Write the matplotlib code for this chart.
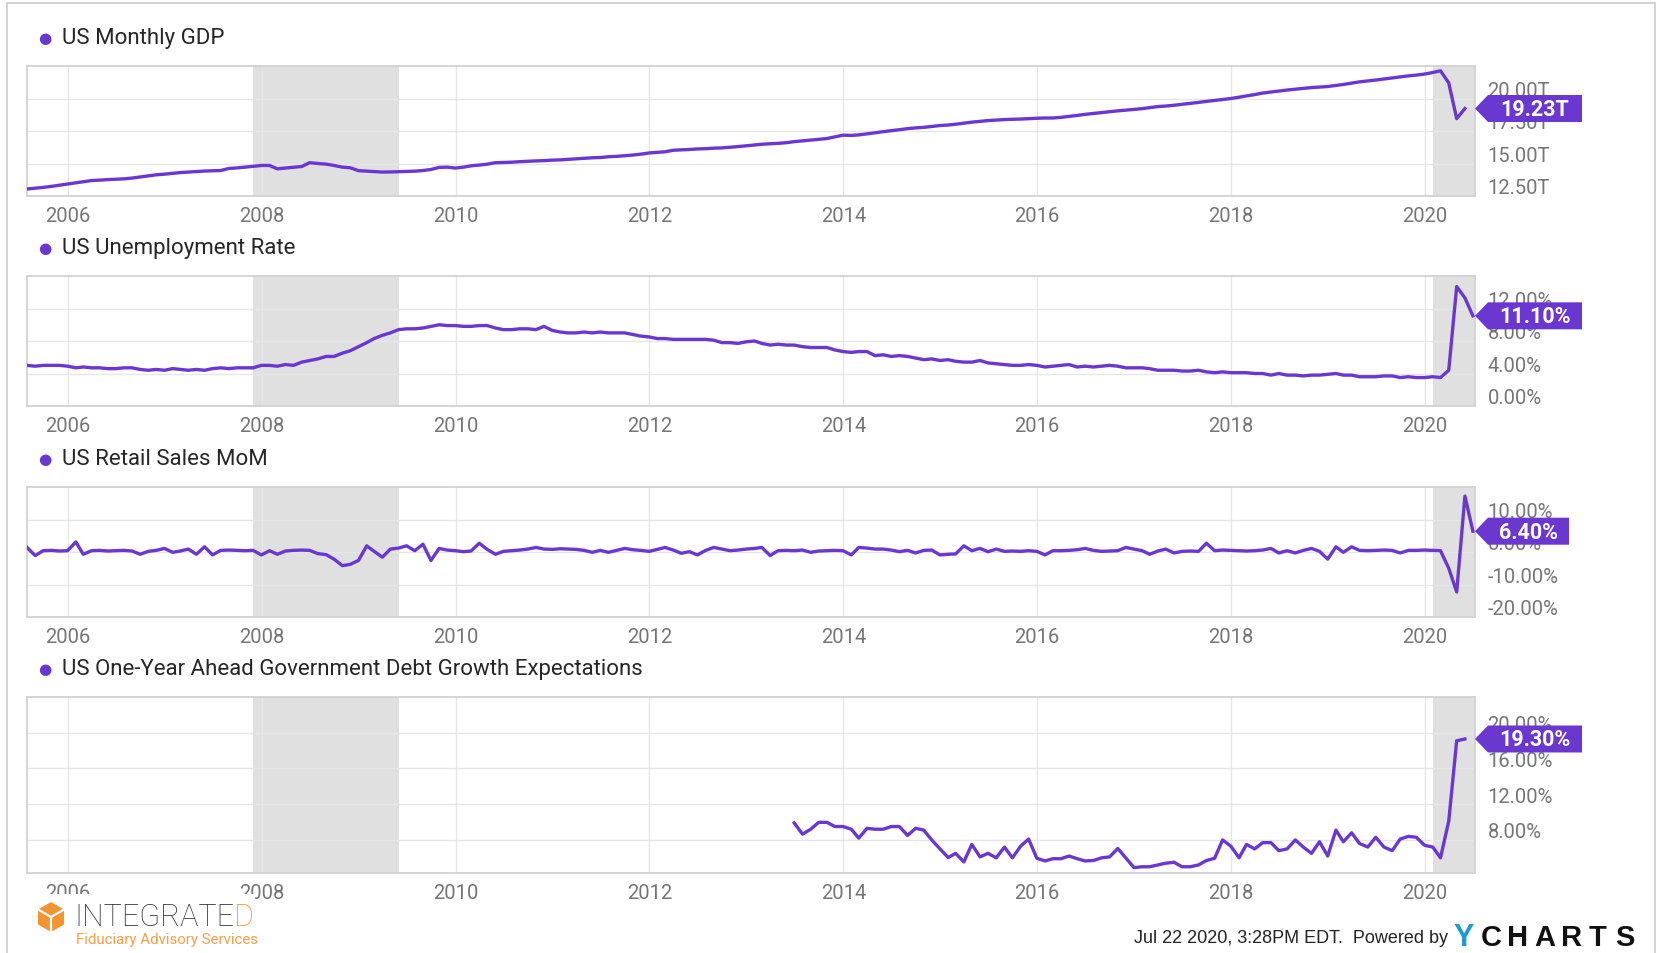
import matplotlib.pyplot as plt
import matplotlib.dates as mdates
import matplotlib.patches as mpatches
import matplotlib.text as mtext
import matplotlib.transforms as mtransforms
import numpy as np
import pandas as pd

plt.rcParams["font.family"] = ["Roboto", "DejaVu Sans"]

PURPLE = "#6a37d0"
TICK_GREY = "#757575"

# monthly, month-end dates
first_month = "2005-07-31"
debt_first_month = "2013-06-30"

gdp = [
    13.04, 13.10, 13.16, 13.24, 13.33, 13.43, 13.52, 13.60, 13.69, 13.72, 13.76, 13.79,
    13.82, 13.88, 13.96, 14.05, 14.13, 14.18, 14.24, 14.30, 14.34, 14.38, 14.42, 14.44,
    14.46, 14.62, 14.66, 14.72, 14.78, 14.85, 14.85, 14.59, 14.65, 14.70, 14.77, 15.06,
    15.00, 14.95, 14.85, 14.72, 14.67, 14.45, 14.41, 14.38, 14.34, 14.35, 14.37, 14.39,
    14.41, 14.46, 14.54, 14.70, 14.72, 14.65, 14.72, 14.82, 14.88, 14.95, 15.06, 15.08,
    15.10, 15.14, 15.17, 15.20, 15.22, 15.26, 15.28, 15.32, 15.36, 15.40, 15.44, 15.46,
    15.52, 15.55, 15.60, 15.65, 15.72, 15.81, 15.86, 15.90, 16.02, 16.05, 16.08, 16.12,
    16.14, 16.18, 16.20, 16.25, 16.30, 16.36, 16.42, 16.48, 16.52, 16.55, 16.60, 16.68,
    16.74, 16.80, 16.86, 16.92, 17.05, 17.18, 17.16, 17.20, 17.28, 17.36, 17.45, 17.52,
    17.60, 17.68, 17.74, 17.78, 17.85, 17.92, 17.96, 18.02, 18.10, 18.18, 18.24, 18.30,
    18.34, 18.38, 18.40, 18.42, 18.45, 18.48, 18.50, 18.50, 18.55, 18.62, 18.70, 18.78,
    18.85, 18.92, 18.98, 19.05, 19.10, 19.16, 19.22, 19.30, 19.38, 19.42, 19.48, 19.55,
    19.62, 19.70, 19.78, 19.85, 19.92, 20.00, 20.10, 20.20, 20.30, 20.42, 20.50, 20.58,
    20.65, 20.72, 20.78, 20.84, 20.88, 20.92, 21.00, 21.08, 21.18, 21.28, 21.35, 21.42,
    21.50, 21.58, 21.66, 21.74, 21.80, 21.88, 22.00, 22.13, 21.20, 18.45, 19.23,
]

unemployment = [
    5.0, 4.9, 5.0, 5.0, 5.0, 4.9,
    4.7, 4.8, 4.7, 4.7, 4.6, 4.6, 4.7, 4.7, 4.5, 4.4, 4.5, 4.4,
    4.6, 4.5, 4.4, 4.5, 4.4, 4.6, 4.7, 4.6, 4.7, 4.7, 4.7, 5.0,
    5.0, 4.9, 5.1, 5.0, 5.4, 5.6, 5.8, 6.1, 6.1, 6.5, 6.8, 7.3,
    7.8, 8.3, 8.7, 9.0, 9.4, 9.5, 9.5, 9.6, 9.8, 10.0, 9.9, 9.9,
    9.8, 9.8, 9.9, 9.9, 9.6, 9.4, 9.4, 9.5, 9.5, 9.4, 9.8, 9.3,
    9.1, 9.0, 9.0, 9.1, 9.0, 9.1, 9.0, 9.0, 9.0, 8.8, 8.6, 8.5,
    8.3, 8.3, 8.2, 8.2, 8.2, 8.2, 8.2, 8.1, 7.8, 7.8, 7.7, 7.9,
    8.0, 7.7, 7.5, 7.6, 7.5, 7.5, 7.3, 7.2, 7.2, 7.2, 6.9, 6.7,
    6.6, 6.7, 6.7, 6.2, 6.3, 6.1, 6.2, 6.1, 5.9, 5.7, 5.8, 5.6,
    5.7, 5.5, 5.4, 5.4, 5.6, 5.3, 5.2, 5.1, 5.0, 5.0, 5.1, 5.0,
    4.8, 4.9, 5.0, 5.1, 4.8, 4.9, 4.8, 4.9, 5.0, 4.9, 4.7, 4.7,
    4.7, 4.6, 4.4, 4.4, 4.4, 4.3, 4.3, 4.4, 4.2, 4.1, 4.2, 4.1,
    4.1, 4.1, 4.0, 4.0, 3.8, 4.0, 3.8, 3.8, 3.7, 3.8, 3.8, 3.9,
    4.0, 3.8, 3.8, 3.6, 3.6, 3.6, 3.7, 3.7, 3.5, 3.6, 3.5, 3.5,
    3.6, 3.5, 4.4, 14.7, 13.3, 11.1,
]

retail_mom = [
    1.4, -1.1, 0.4, 0.5, 0.3, 0.4, 3.1, -0.7, 0.4, 0.5, 0.3, 0.4,
    0.5, 0.3, -0.7, 0.2, 0.5, 1.1, -0.1, 0.3, 0.9, -0.7, 1.6, -0.9,
    0.5, 0.6, 0.5, 0.4, 0.5, -0.9, 0.4, -0.7, 0.3, 0.5, 0.6, 0.5,
    -0.5, -0.8, -2.2, -4.2, -3.8, -2.6, 1.9, 0.2, -1.6, 0.9, 1.2, 1.9,
    0.4, 2.4, -2.6, 1.1, 0.6, 0.4, 0.1, 0.3, 2.7, 0.8, -0.7, 0.2,
    0.4, 0.6, 0.9, 1.4, 0.9, 0.8, 1.0, 0.9, 0.8, 0.5, -0.1, 0.5,
    -0.1, 0.5, 1.1, 0.7, 0.5, 0.2, 0.8, 1.4, 0.6, -0.4, 0.1, -0.9,
    0.5, 1.4, 0.9, 0.4, 0.6, 0.9, 1.1, 1.4, -1.1, 0.4, 0.5, 0.4,
    0.6, -0.1, 0.3, 0.4, 0.5, 0.4, -0.9, 1.4, 1.2, 0.9, 0.9, 0.6,
    0.1, 0.5, -0.3, 0.5, 0.6, -0.9, -0.7, -0.6, 1.9, 0.4, 1.1, 0.1,
    0.9, 0.2, 0.3, 0.2, 0.4, 0.2, -0.9, 0.4, 0.4, 0.5, 0.7, 1.1,
    0.5, 0.2, 0.3, 0.4, 1.4, 0.9, 0.4, -0.7, 0.3, 0.9, -0.3, 0.2,
    0.3, 0.2, 2.7, 0.4, 0.6, 0.5, 0.4, 0.3, 0.4, 0.6, 1.1, -0.3,
    0.4, -0.3, 0.5, 1.1, 0.2, -2.2, 1.6, -0.1, 1.6, 0.5, 0.4, 0.5,
    0.6, 0.5, -0.3, 0.5, 0.5, 0.6, 0.5, 0.4, -5.0, -12.3, 17.2, 6.4,
]

debt_growth = [
    9.9, 8.65, 9.2, 9.97, 9.97, 9.5, 9.5, 9.2, 8.2, 9.3,
    9.2, 9.2, 9.5, 9.5, 8.5, 9.3, 9.1, 8.0, 7.0, 6.03,
    6.5, 5.54, 7.5, 6.1, 6.5, 6.0, 7.2, 6.0, 7.3, 8.1,
    5.95, 5.65, 5.9, 5.9, 6.2, 5.9, 5.65, 5.7, 6.0, 6.1,
    7.05, 6.0, 4.9, 5.0, 5.0, 5.2, 5.4, 5.5, 5.0, 5.0,
    5.2, 5.7, 5.95, 8.0, 7.3, 6.0, 7.5, 7.0, 7.7, 7.7,
    6.8, 7.0, 8.0, 7.2, 6.5, 7.8, 6.2, 9.1, 7.8, 8.8,
    7.6, 7.2, 8.3, 7.2, 6.8, 8.1, 8.4, 8.3, 7.4, 7.2,
    6.0, 10.1, 19.1, 19.3,
]

titles = [
    "US Monthly GDP",
    "US Unemployment Rate",
    "US Retail Sales MoM",
    "US One-Year Ahead Government Debt Growth Expectations",
]
badges = ["19.23T", "11.10%", "6.40%", "19.30%"]
y_ticks = [[12.5, 15, 17.5, 20], [0, 4, 8, 12], [-20, -10, 0, 10], [8, 12, 16, 20]]
y_ticklabels = [
    ["12.50T", "15.00T", "17.50T", "20.00T"],
    ["0.00%", "4.00%", "8.00%", "12.00%"],
    ["-20.00%", "-10.00%", "0.00%", "10.00%"],
    ["8.00%", "12.00%", "16.00%", "20.00%"],
]
y_limits = [(12.5, 22.5), (0, 16), (-20, 20), (4.3, 24.0)]
recessions = [("2007-12-01", "2009-06-01"), ("2020-02-01", "2020-07-08")]
x_limits = ("2005-07-31", "2020-07-08")

series = [
    (pd.date_range(first_month, periods=len(gdp), freq="ME"), gdp),
    (pd.date_range(first_month, periods=len(unemployment), freq="ME"), unemployment),
    (pd.date_range(first_month, periods=len(retail_mom), freq="ME"), retail_mom),
    (pd.date_range(debt_first_month, periods=len(debt_growth), freq="ME"), debt_growth),
]

W, H = 1657, 954
fig = plt.figure(figsize=(W / 100, H / 100), dpi=100)
fig.patch.set_facecolor("white")

# (top, bottom) of each panel in pixels from the top of the image
panel_px = [(67, 197), (277, 407), (488, 618), (698, 874)]
left_px, right_px = 27, 1475


def draw_badge(ax, value, text):
    anchor = mtransforms.blended_transform_factory(ax.transAxes, ax.transData)
    trans = fig.dpi_scale_trans + mtransforms.ScaledTranslation(1.0, value, anchor)
    w = (13 * len(text) + 16) / 100
    h = 0.135
    verts = [(0, 0), (0.13, h), (0.13 + w, h), (0.13 + w, -h), (0.13, -h)]
    fig.add_artist(mpatches.Polygon(verts, closed=True, transform=trans,
                                    facecolor=PURPLE, edgecolor="none", zorder=4))
    fig.text(0.13 + w / 2, -0.005, text, transform=trans, ha="center", va="center",
             color="white", fontsize=15.5, fontweight="bold", zorder=5)


for k, (dates, values) in enumerate(series):
    top, bottom = panel_px[k]
    ax = fig.add_axes([left_px / W, 1 - bottom / H, (right_px - left_px) / W, (bottom - top) / H])
    ax.set_facecolor("white")

    for start, end in recessions:
        ax.axvspan(pd.Timestamp(start), pd.Timestamp(end), color="#e0e0e0", lw=0, zorder=0)

    ax.plot(dates, values, color=PURPLE, lw=2.4, solid_joinstyle="round", zorder=3)

    ax.set_xlim(pd.Timestamp(x_limits[0]), pd.Timestamp(x_limits[1]))
    ax.set_ylim(*y_limits[k])

    ax.xaxis.set_major_locator(mdates.YearLocator(2))
    ax.xaxis.set_major_formatter(mdates.DateFormatter("%Y"))
    ax.yaxis.tick_right()
    ax.set_yticks(y_ticks[k])
    ax.set_yticklabels(y_ticklabels[k])
    ax.tick_params(axis="both", length=0, labelsize=14.5, labelcolor=TICK_GREY)
    ax.tick_params(axis="x", pad=7)
    ax.tick_params(axis="y", pad=9)
    lift = mtransforms.ScaledTranslation(0, 0.10, fig.dpi_scale_trans)
    for lbl in ax.get_yticklabels():
        lbl.set_transform(lbl.get_transform() + lift)
        lbl.set_horizontalalignment("left")

    ax.grid(True, color="#e6e6e6", lw=1, zorder=1)
    ax.set_axisbelow(True)
    for sp in ax.spines.values():
        sp.set_color("#d2d2d2")
        sp.set_linewidth(1.3)

    ax.annotate("\u25cf", xy=(0, 1), xycoords="axes fraction", xytext=(18, 28),
                textcoords="offset pixels", ha="center", va="center",
                color=PURPLE, fontsize=11, family="DejaVu Sans")
    ax.annotate(titles[k], xy=(0, 1), xycoords="axes fraction", xytext=(35, 28),
                textcoords="offset pixels", ha="left", va="center",
                color="#262626", fontsize=16)

    draw_badge(ax, values[-1], badges[k])

inch = fig.dpi_scale_trans

# outer frame
fig.add_artist(mpatches.Rectangle((0.07, -0.2), 16.48, (H - 4) / 100 + 0.2, transform=inch,
                                  facecolor="none", edgecolor="#cccccc", lw=1.2, zorder=0))

# logo block
fig.add_artist(mpatches.Rectangle((0.10, 0), 2.45, (H - 895) / 100, transform=inch,
                                  facecolor="white", edgecolor="none", zorder=6))
hex_c = (0.51, (H - 918) / 100)
fig.add_artist(mpatches.RegularPolygon(hex_c, 6, radius=0.15, transform=inch,
                                       facecolor="#f39430", edgecolor="none", zorder=7))
for ang in (150, 30, 270):
    a = np.deg2rad(ang)
    fig.add_artist(plt.Line2D([hex_c[0], hex_c[0] + 0.15 * np.cos(a)],
                              [hex_c[1], hex_c[1] + 0.15 * np.sin(a)],
                              transform=inch, color="white", lw=1.6, zorder=8))
logo = fig.text(0.74, (H - 918) / 100, "INTEGRATE", transform=inch, ha="left", va="center",
                fontsize=22, fontweight="light", color="#333333", zorder=8)
fig.add_artist(mtext.Annotation("D", xy=(1, 0), xycoords=logo, ha="left", va="bottom",
                                fontsize=22, fontweight="light", color="#f39430",
                                annotation_clip=False, zorder=8))
fig.text(0.76, (H - 940) / 100, "Fiduciary Advisory Services", transform=inch,
         ha="left", va="center", fontsize=10.8, color="#f5a048", zorder=8)

# footer
fig.text(14.48, (H - 939) / 100, "Jul 22 2020, 3:28PM EDT.  Powered by", transform=inch,
         ha="right", va="center", fontsize=13, color="#222222", family="Liberation Sans")
fig.text(14.64, (H - 938) / 100, "Y", transform=inch, ha="center", va="center",
         fontsize=22, fontweight="bold", color="#1f9ad6", family="Liberation Sans")
for j, ch in enumerate("CHARTS"):
    fig.text(14.91 + 0.267 * j, (H - 938) / 100, ch, transform=inch, ha="center",
             va="center", fontsize=21, fontweight="bold", color="#111111",
             family="Liberation Sans")

fig.savefig("out.png", dpi=100, facecolor="white")
